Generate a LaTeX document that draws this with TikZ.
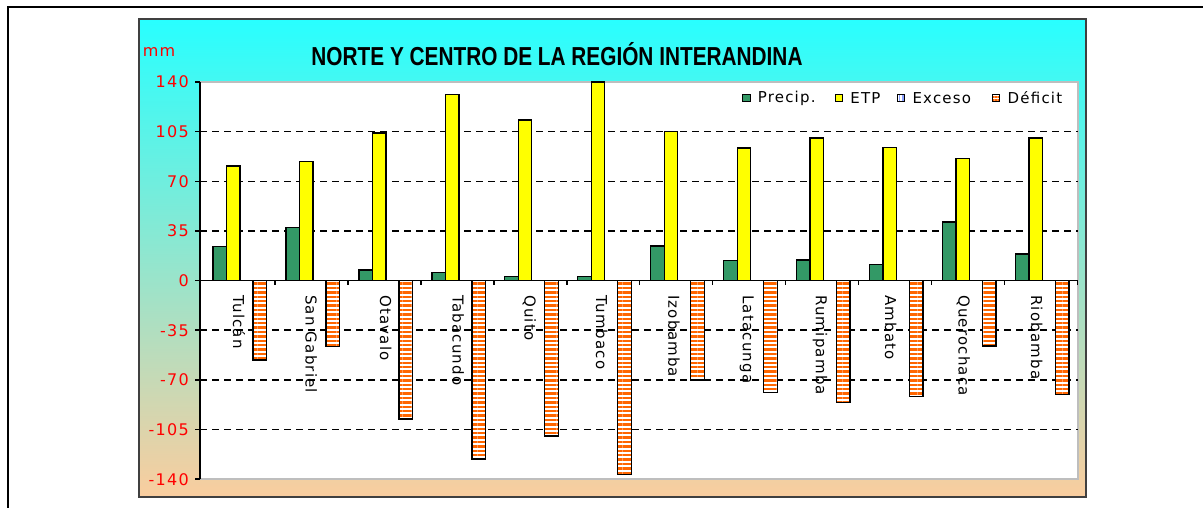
\documentclass[tikz,border=0pt]{standalone}
\usepackage{fontspec}
\setmainfont{Liberation Sans}
\newfontfamily\chartfont{DejaVu Sans}[LetterSpace=8]
\usepackage{xcolor}
\usetikzlibrary{positioning}
\usetikzlibrary{patterns.meta}
\definecolor{precipgreen}{RGB}{51,153,102}
\definecolor{etpyellow}{RGB}{255,255,0}
\definecolor{defred}{RGB}{255,102,0}
\definecolor{excblue}{RGB}{140,160,255}
\definecolor{skycyan}{RGB}{40,255,255}
\definecolor{midteal}{RGB}{160,228,208}
\definecolor{peach}{RGB}{250,205,158}
\definecolor{framegray}{RGB}{64,64,64}
\definecolor{plotgray}{RGB}{190,190,190}

\begin{document}
\begin{tikzpicture}[x=1pt,y=1pt,node distance=7pt,
  precip/.style={draw=black,line width=1.3pt,fill=precipgreen},
  etp/.style={draw=black,line width=1.3pt,fill=etpyellow},
  deficit/.style={draw=black,line width=1.3pt,preaction={fill=white},
    pattern={Lines[angle=0,distance=4.4pt,line width=2.4pt]},pattern color=defred},
  gridline/.style={black,line width=1.5pt,dash pattern=on 7pt off 5pt},
  axisline/.style={black,line width=1.5pt},
  ylab/.style={anchor=east,inner sep=0pt,text=red,font=\chartfont\fontsize{16}{16}\selectfont},
  stn/.style={rotate=-90,anchor=west,inner sep=0pt,font=\chartfont\fontsize{15}{15}\selectfont},
  legbox/.style={draw=black,line width=1pt,minimum size=7.5pt,inner sep=0pt},
  legtext/.style={right=7pt of #1,inner sep=0pt,font=\chartfont\fontsize{15}{15}\selectfont}]
\def\bw{13.5}
\useasboundingbox (0,0) rectangle (1203,508);
\draw[line width=2pt] (7.5,0) -- (7.5,500.5) -- (1203,500.5);
% chart area
\shade[top color=skycyan,middle color=midteal,bottom color=peach] (139,11) rectangle (1086,489);
\draw[framegray,line width=1.5pt] (139,11) rectangle (1086,489);
\draw[plotgray,fill=white,line width=1.5pt] (200,28.8) rectangle (1078,426);
\node[font=\bfseries\fontsize{26}{26}\selectfont] (title) at (557,454)
  {\scalebox{0.8}[1]{NORTE Y CENTRO DE LA REGIÓN INTERANDINA}};
\node[text=red,font=\chartfont\fontsize{16}{16}\selectfont] (unit) at (159,456) {mm};
% legend
\node[legbox,fill=precipgreen] (kp) at (746.4,410) {};
\node[legtext=kp] (lp) {Precip.};
\node[legbox,fill=etpyellow] (ke) at (839,410) {};
\node[legtext=ke] (le) {ETP};
\node[legbox,preaction={fill=white},pattern={Lines[angle=90,distance=3.5pt,line width=1.2pt]},pattern color=excblue] (kx) at (901,410) {};
\node[legtext=kx] (lx) {Exceso};
\node[legbox,preaction={fill=white},pattern={Lines[angle=0,distance=3pt,line width=1.5pt]},pattern color=defred] (kd) at (996,410) {};
\node[legtext=kd] (ld) {Déficit};
% data in mm
\begin{scope}[shift={(0,227.4)},yscale=1.4186]
\draw[gridline] (200,105) -- (1078,105) (200,70) -- (1078,70) (200,35) -- (1078,35)
  (200,-35) -- (1078,-35) (200,-70) -- (1078,-70) (200,-105) -- (1078,-105);
\node[ylab] (y1) at (189,140) {140};
\node[ylab] (y2) at (189,105) {105};
\node[ylab] (y3) at (189,70) {70};
\node[ylab] (y4) at (189,35) {35};
\node[ylab] (y5) at (189,0) {0};
\node[ylab] (y6) at (189,-35) {-35};
\node[ylab] (y7) at (189,-70) {-70};
\node[ylab] (y8) at (189,-105) {-105};
\node[ylab] (y9) at (189,-140) {-140};
% Tulcan
\draw[precip] (213.0,0) rectangle ++(\bw,24.2);
\draw[etp] (226.5,0) rectangle ++(\bw,80.8);
\draw[deficit] (253.0,0) rectangle ++(\bw,-56);
% San Gabriel
\draw[precip] (286.0,0) rectangle ++(\bw,37.3);
\draw[etp] (299.5,0) rectangle ++(\bw,83.8);
\draw[deficit] (326.0,0) rectangle ++(\bw,-46.6);
% Otavalo
\draw[precip] (358.9,0) rectangle ++(\bw,7.5);
\draw[etp] (372.4,0) rectangle ++(\bw,104);
\draw[deficit] (398.9,0) rectangle ++(\bw,-97.6);
% Tabacundo
\draw[precip] (431.9,0) rectangle ++(\bw,5.9);
\draw[etp] (445.4,0) rectangle ++(\bw,131.3);
\draw[deficit] (471.9,0) rectangle ++(\bw,-125.8);
% Quito
\draw[precip] (504.8,0) rectangle ++(\bw,3);
\draw[etp] (518.3,0) rectangle ++(\bw,113.2);
\draw[deficit] (544.8,0) rectangle ++(\bw,-109.5);
% Tumbaco
\draw[precip] (577.8,0) rectangle ++(\bw,3);
\draw[etp] (591.3,0) rectangle ++(\bw,140);
\draw[deficit] (617.8,0) rectangle ++(\bw,-136.5);
% Izobamba
\draw[precip] (650.7,0) rectangle ++(\bw,24.3);
\draw[etp] (664.2,0) rectangle ++(\bw,105.3);
\draw[deficit] (690.7,0) rectangle ++(\bw,-70);
% Latacunga
\draw[precip] (723.7,0) rectangle ++(\bw,14.4);
\draw[etp] (737.2,0) rectangle ++(\bw,93.4);
\draw[deficit] (763.7,0) rectangle ++(\bw,-78.7);
% Rumipamba
\draw[precip] (796.6,0) rectangle ++(\bw,14.6);
\draw[etp] (810.1,0) rectangle ++(\bw,100.6);
\draw[deficit] (836.6,0) rectangle ++(\bw,-86);
% Ambato
\draw[precip] (869.6,0) rectangle ++(\bw,11.5);
\draw[etp] (883.1,0) rectangle ++(\bw,93.6);
\draw[deficit] (909.6,0) rectangle ++(\bw,-81.8);
% Querochaca
\draw[precip] (942.5,0) rectangle ++(\bw,41.4);
\draw[etp] (956.0,0) rectangle ++(\bw,86.2);
\draw[deficit] (982.5,0) rectangle ++(\bw,-46.1);
% Riobamba
\draw[precip] (1015.5,0) rectangle ++(\bw,18.8);
\draw[etp] (1029.0,0) rectangle ++(\bw,100.6);
\draw[deficit] (1055.5,0) rectangle ++(\bw,-80.4);
% axes
\draw[axisline] (200,-140) -- (200,140);
\draw[axisline] (195,140) -- (200,140) (195,105) -- (200,105) (195,70) -- (200,70)
  (195,35) -- (200,35) (195,0) -- (200,0) (195,-35) -- (200,-35)
  (195,-70) -- (200,-70) (195,-105) -- (200,-105) (195,-140) -- (200,-140);
\draw[axisline] (200,0) -- (1078,0);
\draw[axisline] (274.95,0) -- ++(0,-3) (347.9,0) -- ++(0,-3) (420.85,0) -- ++(0,-3)
  (493.8,0) -- ++(0,-3) (566.75,0) -- ++(0,-3) (639.7,0) -- ++(0,-3)
  (712.65,0) -- ++(0,-3) (785.6,0) -- ++(0,-3) (858.55,0) -- ++(0,-3)
  (931.5,0) -- ++(0,-3) (1004.45,0) -- ++(0,-3) (1077.4,0) -- ++(0,-3);
% station names
\node[stn] (tulcan) at (239,-10.2) {Tulcán};
\node[stn] (sangabriel) at (311.2,-10.2) {San Gabriel};
\node[stn] (otavalo) at (385.7,-10.2) {Otavalo};
\node[stn] (tabacundo) at (458.3,-10.2) {Tabacundo};
\node[stn] (quito) at (529.3,-10.2) {Quito};
\node[stn] (tumbaco) at (601.7,-10.2) {Tumbaco};
\node[stn] (izobamba) at (674,-10.2) {Izobamba};
\node[stn] (latacunga) at (746.7,-10.2) {Latacunga};
\node[stn] (rumipamba) at (820,-10.2) {Rumipamba};
\node[stn] (ambato) at (890.7,-10.2) {Ambato};
\node[stn] (querochaca) at (963.3,-10.2) {Querochaca};
\node[stn] (riobamba) at (1036.7,-10.2) {Riobamba};
\end{scope}
\end{tikzpicture}
\end{document}
